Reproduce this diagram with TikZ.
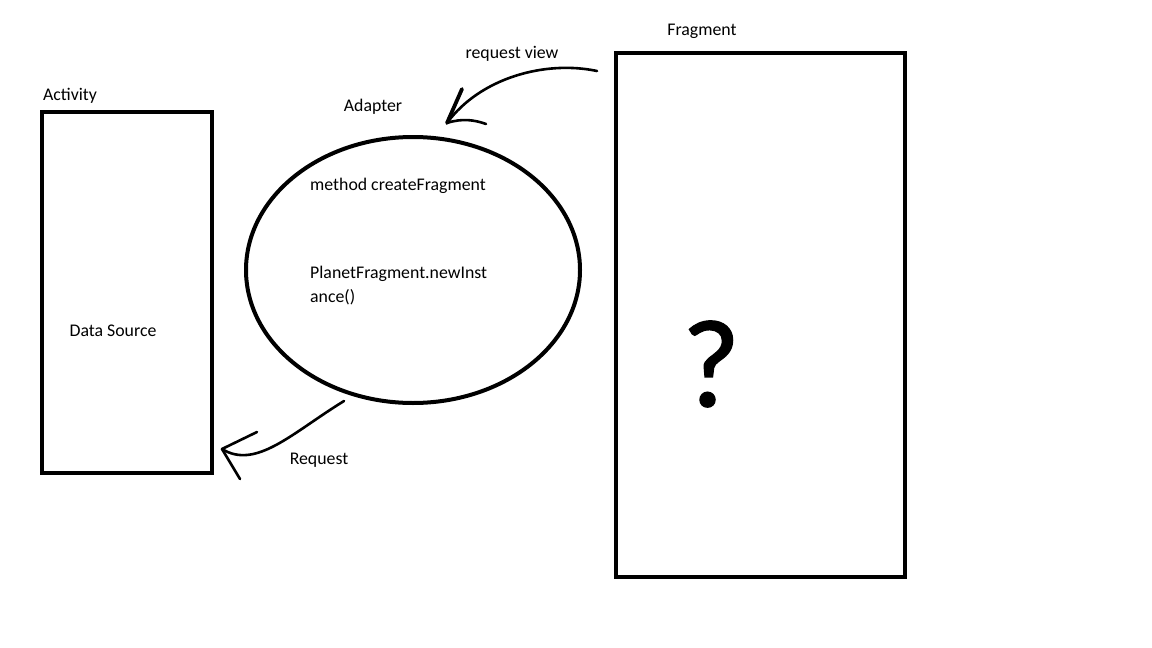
\documentclass[tikz,border=0pt]{standalone}
\usepackage{fontspec}
\setmainfont{Carlito}
\newfontface\qfont[FakeBold=1.2]{Carlito}
\usetikzlibrary{shapes.geometric}
\begin{document}
\begin{tikzpicture}[x=1pt,y=-1pt,
  box/.style={draw,line width=4pt,minimum width=0pt,inner sep=0pt},
  lbl/.style={font=\fontsize{17.8}{21}\selectfont,inner sep=0pt},
  stroke/.style={line width=2.6pt,line cap=round,line join=round}]
\useasboundingbox (0,0) rectangle (1152,648);
\fill[white] (0,0) rectangle (1152,648);
% Activity box
\node[box,minimum width=170pt,minimum height=361pt] (act) at (127,292.5) {};
\node[lbl] (actl) at (70,96) {Activity};
\node[lbl] (ds) at (113,331) {Data Source};
% Adapter ellipse
\node[draw,ellipse,line width=4pt,minimum width=334pt,minimum height=266pt,inner sep=0pt] (ad) at (413,270) {};
\node[lbl] (adl) at (373,107) {Adapter};
\node[lbl,anchor=west] (m1) at (310,186) {method createFragment};
\node[lbl,anchor=west] (m2) at (310,274) {PlanetFragment.newInst};
\node[lbl,anchor=west] (m3) at (310,297) {ance()};
% Fragment box
\node[box,minimum width=289pt,minimum height=524pt] (fr) at (760.5,315) {};
\node[lbl] (frl) at (702,31) {Fragment};
\node[inner sep=0pt,font=\qfont\fontsize{125}{140}\selectfont] (q) at (711,364) {?};
% request view arrow
\node[lbl] (rv) at (512,54) {request view};
\coordinate (rvs) at (597,71);
\coordinate (rve) at (447,123);
\draw[stroke] (rvs) .. controls (545,60) and (480,78) .. (rve);
\draw[line width=3.8pt,line cap=round] (rve) -- (462,89);
\draw[stroke] (rve) .. controls (462,118) and (475,120) .. (486,124);
% Request arrow
\node[lbl] (rq) at (319,460) {Request};
\coordinate (rqs) at (344,401);
\coordinate (rqe) at (222,449);
\draw[stroke] (rqs) .. controls (292,433) and (256,470) .. (rqe);
\draw[stroke] (rqe) -- (257,432);
\draw[stroke] (rqe) -- (240,479);
\end{tikzpicture}
\end{document}
